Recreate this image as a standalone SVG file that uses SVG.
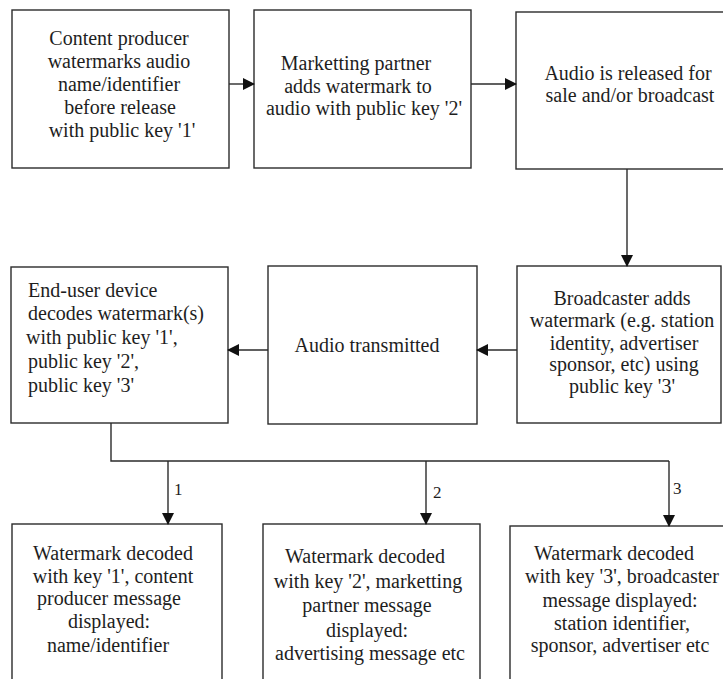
<svg xmlns="http://www.w3.org/2000/svg" width="723" height="679" viewBox="0 0 723 679">
  <style>
    .box { fill: #ffffff; stroke: #2b2b2b; stroke-width: 1.4; }
    .lbl { font-family: "Liberation Serif", "Times New Roman", serif; font-size: 20px; fill: #1e1e1e; text-anchor: middle; }
    .left { text-anchor: start; }
    .wire { fill: none; stroke: #2b2b2b; stroke-width: 1.4; }
    .num { font-family: "Liberation Serif", "Times New Roman", serif; font-size: 17px; fill: #1e1e1e; }
  </style>
  <defs>
    <marker id="arrow" markerWidth="12" markerHeight="12" refX="11" refY="6" orient="auto" markerUnits="userSpaceOnUse">
      <path d="M0,0 L12,6 L0,12 Z" fill="#111111"/>
    </marker>
  </defs>
  <rect width="723" height="679" fill="#ffffff"/>

  <!-- top row -->
  <g id="producer">
    <rect class="box" x="12" y="10" width="217" height="158"/>
    <text class="lbl" x="119" y="45">Content producer</text>
    <text class="lbl" x="119" y="68">watermarks audio</text>
    <text class="lbl" x="119" y="91">name/identifier</text>
    <text class="lbl" x="120" y="114">before release</text>
    <text class="lbl" x="122" y="137">with public key '1'</text>
  </g>
  <g id="partner">
    <rect class="box" x="254" y="10" width="217" height="158"/>
    <text class="lbl" x="356" y="70">Marketting partner</text>
    <text class="lbl" x="358" y="93">adds watermark to</text>
    <text class="lbl" x="364" y="115">audio with public key '2'</text>
  </g>
  <g id="release">
    <rect class="box" x="516" y="12" width="230" height="157"/>
    <text class="lbl" x="628" y="80">Audio is released for</text>
    <text class="lbl" x="630" y="102">sale and/or broadcast</text>
  </g>

  <!-- middle row -->
  <g id="enduser">
    <rect class="box" x="11" y="267" width="217" height="156"/>
    <text class="lbl left" x="28" y="297">End-user device</text>
    <text class="lbl left" x="28" y="320">decodes watermark(s)</text>
    <text class="lbl left" x="26" y="344">with public key '1',</text>
    <text class="lbl left" x="28" y="368">public key '2',</text>
    <text class="lbl left" x="28" y="392">public key '3'</text>
  </g>
  <g id="transmitted">
    <rect class="box" x="268" y="266" width="209" height="158"/>
    <text class="lbl" x="367" y="352">Audio transmitted</text>
  </g>
  <g id="broadcaster">
    <rect class="box" x="517" y="266" width="204" height="157"/>
    <text class="lbl" x="622" y="305">Broadcaster adds</text>
    <text class="lbl" x="622" y="327">watermark (e.g. station</text>
    <text class="lbl" x="624" y="350">identity, advertiser</text>
    <text class="lbl" x="624" y="371">sponsor, etc) using</text>
    <text class="lbl" x="622" y="393">public key '3'</text>
  </g>

  <!-- bottom row -->
  <g id="decoded1">
    <rect class="box" x="12" y="524" width="210" height="170"/>
    <text class="lbl" x="113" y="560">Watermark decoded</text>
    <text class="lbl" x="113" y="583">with key '1', content</text>
    <text class="lbl" x="109" y="605">producer message</text>
    <text class="lbl" x="109" y="628">displayed:</text>
    <text class="lbl" x="108" y="652">name/identifier</text>
  </g>
  <g id="decoded2">
    <rect class="box" x="263" y="524" width="217" height="170"/>
    <text class="lbl" x="365" y="563">Watermark decoded</text>
    <text class="lbl" x="368" y="588">with key '2', marketting</text>
    <text class="lbl" x="367" y="612">partner message</text>
    <text class="lbl" x="367" y="637">displayed:</text>
    <text class="lbl" x="370" y="660">advertising message etc</text>
  </g>
  <g id="decoded3">
    <rect class="box" x="510" y="526" width="240" height="170"/>
    <text class="lbl" x="614" y="560">Watermark decoded</text>
    <text class="lbl" x="622" y="583">with key '3', broadcaster</text>
    <text class="lbl" x="620" y="607">message displayed:</text>
    <text class="lbl" x="622" y="630">station identifier,</text>
    <text class="lbl" x="620" y="652">sponsor, advertiser etc</text>
  </g>

  <!-- connectors -->
  <g id="connectors">
    <line class="wire" x1="229" y1="84" x2="254" y2="84" marker-end="url(#arrow)"/>
    <line class="wire" x1="471" y1="84" x2="516" y2="84" marker-end="url(#arrow)"/>
    <line class="wire" x1="627" y1="169" x2="627" y2="266" marker-end="url(#arrow)"/>
    <line class="wire" x1="517" y1="350" x2="477" y2="350" marker-end="url(#arrow)"/>
    <line class="wire" x1="268" y1="350" x2="228" y2="350" marker-end="url(#arrow)"/>
    <path class="wire" d="M111,423 V461 H669"/>
    <line class="wire" x1="168" y1="461" x2="168" y2="524" marker-end="url(#arrow)"/>
    <line class="wire" x1="426" y1="461" x2="426" y2="524" marker-end="url(#arrow)"/>
    <line class="wire" x1="669" y1="461" x2="669" y2="526" marker-end="url(#arrow)"/>
    <text class="num" x="174" y="495">1</text>
    <text class="num" x="433" y="498">2</text>
    <text class="num" x="673" y="494">3</text>
  </g>
</svg>
